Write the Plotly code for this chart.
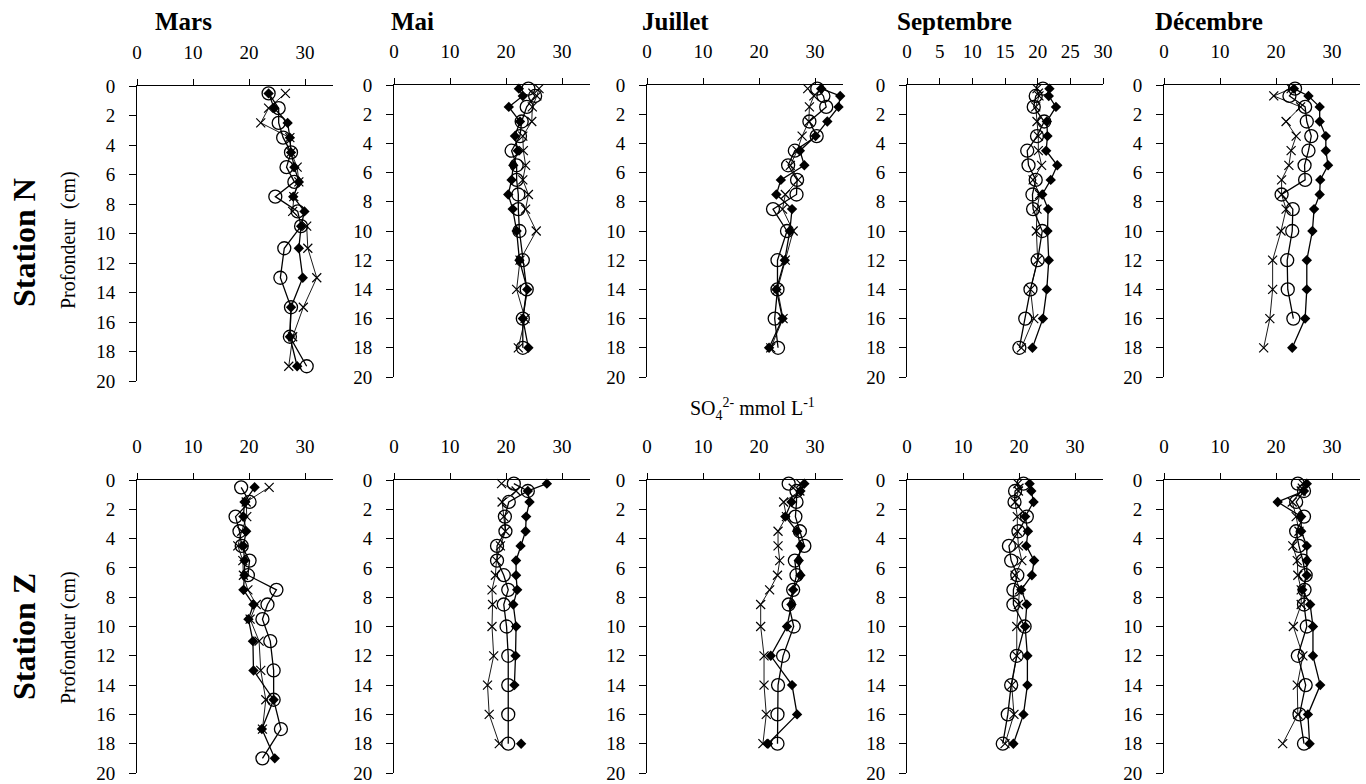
import plotly.graph_objects as go

W, H = 1366, 784

# Profondeurs (cm)
depth_mars = [0.5, 1.5, 2.5, 3.5, 4.5, 5.5, 6.5, 7.5, 8.5, 9.5, 11, 13, 15, 17, 19]
depth_std = [0.25, 0.75, 1.5, 2.5, 3.5, 4.5, 5.5, 6.5, 7.5, 8.5, 10, 12, 14, 16, 18]

months = ["Mars", "Mai", "Juillet", "Septembre", "Décembre"]

# ---- Station N : SO4 2- (mmol L-1) ----
n_mars_diamond = [23.5, 24.5, 26.9, 27.3, 27.5, 28.1, 28.9, 27.9, 29.9, 29.3, 28.9, 29.6, 27.5, 27.3, 28.6]
n_mars_circle = [23.5, 25.3, 25.3, 26.1, 27.5, 26.7, 28.1, 24.7, 28.7, 29.3, 26.3, 25.6, 27.5, 27.3, 30.3]
n_mars_cross = [26.5, 23.5, 22.1, 27.3, 27.5, 28.6, 28.9, 28.0, 27.8, 30.3, 30.5, 32.1, 29.7, 27.8, 27.1]

n_mai_diamond = [22.3, 23.0, 20.5, 22.5, 21.6, 22.1, 21.3, 21.0, 20.4, 21.2, 21.9, 22.4, 23.8, 23.0, 24.0]
n_mai_circle = [24.0, 25.2, 23.7, 22.8, 22.5, 21.0, 21.9, 21.9, 22.2, 22.2, 22.4, 23.0, 23.7, 23.0, 23.0]
n_mai_cross = [25.9, 25.5, 24.7, 24.6, 23.0, 23.1, 23.5, 23.0, 24.0, 23.5, 25.4, 22.5, 21.9, 23.4, 22.2]

n_juil_diamond = [31.1, 34.5, 34.2, 32.2, 30.1, 27.3, 28.1, 23.9, 23.1, 25.9, 25.5, 24.6, 23.1, 24.2, 21.8]
n_juil_circle = [30.4, 31.5, 32.0, 29.0, 30.3, 26.4, 25.2, 26.8, 26.7, 22.5, 25.0, 23.3, 23.3, 22.8, 23.4]
n_juil_cross = [28.7, 29.8, 29.0, 28.9, 27.7, 26.8, 25.6, 27.0, 24.7, 24.2, 26.1, 24.7, 23.3, 24.3, 22.1]

n_sept_diamond = [21.8, 21.7, 22.8, 21.4, 21.5, 21.3, 23.0, 22.0, 20.7, 21.6, 21.5, 21.7, 21.4, 20.8, 19.2]
n_sept_circle = [20.8, 19.7, 19.4, 21.0, 19.9, 18.4, 18.6, 19.7, 19.2, 19.3, 20.7, 20.0, 18.9, 18.1, 17.2]
n_sept_cross = [19.9, 20.2, 19.7, 19.9, 20.1, 20.1, 20.6, 19.3, 20.3, 19.9, 19.8, 20.0, 18.9, 19.4, 17.5]

n_dec_diamond = [23.2, 25.8, 27.8, 27.8, 28.9, 28.9, 29.3, 27.9, 27.8, 26.8, 26.5, 25.5, 25.5, 25.2, 22.9]
n_dec_circle = [23.4, 22.4, 25.2, 25.5, 26.3, 25.8, 25.1, 25.2, 21.0, 23.0, 22.9, 22.0, 22.1, 23.1, None]
n_dec_cross = [22.7, 19.6, 24.4, 21.8, 23.6, 22.7, 22.3, 21.0, 21.0, 21.8, 20.9, 19.4, 19.4, 18.9, 17.8]

# ---- Station Z : SO4 2- (mmol L-1) ----
z_mars_diamond = [21.0, 19.2, 19.0, 19.5, 19.0, 19.2, 19.2, 19.0, 20.8, 19.9, 20.7, 20.8, 24.4, 22.3, 24.6]
z_mars_circle = [18.6, 20.1, 17.6, 18.3, 18.7, 20.1, 19.8, 24.9, 23.3, 22.4, 23.8, 24.4, 24.4, 25.7, 22.4]
z_mars_cross = [23.6, 19.5, 19.6, 18.7, 18.0, 18.9, 19.0, 19.8, 21.3, 20.2, 21.8, 22.1, 23.0, 22.4, None]

z_mai_diamond = [27.3, 23.9, 24.2, 23.6, 23.5, 22.6, 21.8, 21.8, 22.0, 21.3, 21.8, 21.7, 21.5, None, 22.7]
z_mai_circle = [21.4, 23.9, 20.5, 19.8, 19.9, 18.4, 18.4, 19.6, 20.4, 19.6, 20.1, 20.4, 20.4, 20.4, 20.4]
z_mai_cross = [19.2, 21.8, 19.3, 19.6, 19.9, 19.0, 18.3, 18.1, 17.5, 17.6, 17.5, 17.8, 16.7, 17.0, 18.8]

z_juil_diamond = [28.1, 27.4, 25.8, 24.7, 26.8, 27.4, 27.1, 27.4, 26.1, 25.8, 25.0, 22.1, 25.9, 26.8, 21.6]
z_juil_circle = [25.3, 26.7, 26.7, 26.5, 27.3, 28.1, 26.4, 26.7, 26.1, 25.3, 26.2, 24.3, 23.4, 23.3, 23.3]
z_juil_cross = [27.4, 27.3, 24.4, 24.9, 23.4, 23.4, 23.7, 23.3, 21.9, 20.3, 20.3, 20.9, 20.9, 21.3, 20.7]

z_sept_diamond = [21.9, 22.2, 22.6, 21.1, 21.6, 21.3, 22.7, 22.3, 20.4, 21.4, 21.1, 21.5, 21.5, 20.8, 19.0]
z_sept_circle = [20.8, 19.3, 19.2, 21.4, 19.9, 18.2, 18.6, 19.7, 19.0, 19.0, 21.0, 19.6, 18.6, 18.0, 17.1]
z_sept_cross = [19.8, 19.9, 19.3, 19.7, 19.7, 19.9, 20.5, 19.3, 20.1, 19.9, 19.6, 19.6, 18.7, 19.1, 17.5]

z_dec_diamond = [25.5, 25.0, 20.3, 24.5, 24.5, 25.5, 25.5, 25.5, 24.7, 26.1, 26.6, 26.6, 27.9, 25.7, 26.0]
z_dec_circle = [23.9, 25.0, 23.6, 25.0, 23.6, 24.1, 24.8, 25.3, 25.1, 25.0, 25.5, 23.9, 25.3, 24.2, 25.0]
z_dec_cross = [24.8, 24.5, 22.9, 23.6, 24.1, 23.0, 23.8, 23.9, 24.5, 24.5, 23.1, 24.8, 23.8, 23.9, 21.2]

x_max = [35, 35, 35, 30, 35]
x_ticks_n = [[0, 10, 20, 30], [0, 10, 20, 30], [0, 10, 20, 30], [0, 5, 10, 15, 20, 25, 30], [0, 10, 20, 30]]
x_ticks_z = [[0, 10, 20, 30]] * 5
y_ticks = list(range(0, 21, 2))

station_n = [
    (depth_mars, n_mars_diamond, n_mars_circle, n_mars_cross),
    (depth_std, n_mai_diamond, n_mai_circle, n_mai_cross),
    (depth_std, n_juil_diamond, n_juil_circle, n_juil_cross),
    (depth_std, n_sept_diamond, n_sept_circle, n_sept_cross),
    (depth_std, n_dec_diamond, n_dec_circle, n_dec_cross),
]
station_z = [
    (depth_mars, z_mars_diamond, z_mars_circle, z_mars_cross),
    (depth_std, z_mai_diamond, z_mai_circle, z_mai_cross),
    (depth_std, z_juil_diamond, z_juil_circle, z_juil_cross),
    (depth_std, z_sept_diamond, z_sept_circle, z_sept_cross),
    (depth_std, z_dec_diamond, z_dec_circle, z_dec_cross),
]

# Panel frames in pixels: left edge, plot width, top, bottom
panel_left = [137, 394, 647, 907, 1164]
panel_width = 196
row_top = [[86, 85, 85, 85, 85], [480, 480, 480, 480, 480]]
row_bottom = [[381, 377, 377, 377, 377], [773, 773, 773, 773, 773]]

FONT = "Liberation Serif"
TICK_SIZE = 19

fig = go.Figure()
layout_axes = {}


def px_x(p):
    return p / W


def px_y(p):
    return 1 - p / H


k = 0
for r, (station, ticks_list) in enumerate([(station_n, x_ticks_n), (station_z, x_ticks_z)]):
    for c in range(5):
        k += 1
        xa = "x" if k == 1 else f"x{k}"
        ya = "y" if k == 1 else f"y{k}"
        depth, dia, cir, cro = station[c]
        xmax = x_max[c] if r == 0 else 35

        fig.add_trace(go.Scatter(
            x=cro, y=depth, xaxis=xa, yaxis=ya, mode="lines+markers",
            line=dict(color="black", width=0.9),
            marker=dict(symbol="x-thin-open", size=9, line=dict(color="black", width=1.2)),
            showlegend=False, cliponaxis=False))
        fig.add_trace(go.Scatter(
            x=cir, y=depth, xaxis=xa, yaxis=ya, mode="lines+markers",
            line=dict(color="black", width=1.3),
            marker=dict(symbol="circle-open", size=13, line=dict(color="black", width=1.3)),
            showlegend=False, cliponaxis=False))
        fig.add_trace(go.Scatter(
            x=dia, y=depth, xaxis=xa, yaxis=ya, mode="lines+markers",
            line=dict(color="black", width=1.3),
            marker=dict(symbol="diamond", size=8, color="black"),
            showlegend=False, cliponaxis=False))

        x0 = panel_left[c]
        top = row_top[r][c]
        bot = row_bottom[r][c]
        key_x = "xaxis" if k == 1 else f"xaxis{k}"
        key_y = "yaxis" if k == 1 else f"yaxis{k}"
        layout_axes[key_x] = dict(
            domain=[px_x(x0), px_x(x0 + panel_width)], anchor=ya, side="top",
            range=[0, xmax], tickvals=ticks_list[c], showline=True,
            linecolor="black", linewidth=1, ticks="outside", ticklen=6,
            tickcolor="black", showgrid=False, zeroline=False,
            ticklabelstandoff=12, automargin=False,
            tickfont=dict(family=FONT, size=TICK_SIZE, color="black"))
        layout_axes[key_y] = dict(
            domain=[px_y(bot), px_y(top)], anchor=xa,
            range=[20, 0], tickvals=y_ticks, showline=True,
            linecolor="black", linewidth=1, ticks="outside", ticklen=7,
            tickcolor="black", showgrid=False, zeroline=False,
            ticklabelstandoff=10, automargin=False,
            tickfont=dict(family=FONT, size=TICK_SIZE, color="black"))

annotations = []
title_left = [153, 389, 640, 895, 1153]
for c, m in enumerate(months):
    annotations.append(dict(
        text=f"<b>{m}</b>", x=px_x(title_left[c]), y=px_y(21), xref="paper", yref="paper",
        xanchor="left", yanchor="middle", showarrow=False,
        font=dict(family=FONT, size=25, color="black")))

for name, yc in [("Station N", 243), ("Station Z", 637)]:
    annotations.append(dict(
        text=f"<b>{name}</b>", x=px_x(24), y=px_y(yc), xref="paper", yref="paper",
        xanchor="center", yanchor="middle", textangle=-90, showarrow=False,
        font=dict(family=FONT, size=32, color="black")))

for label, yc in [("Profondeur  (cm)", 240), ("Profondeur (cm)", 638)]:
    annotations.append(dict(
        text=label, x=px_x(68), y=px_y(yc), xref="paper", yref="paper",
        xanchor="center", yanchor="middle", textangle=-90, showarrow=False,
        font=dict(family=FONT, size=20, color="black")))

annotations.append(dict(
    text="SO<sub>4</sub><sup>2-</sup> mmol L<sup>-1</sup>", x=px_x(752), y=px_y(409),
    xref="paper", yref="paper", xanchor="center", yanchor="middle", showarrow=False,
    font=dict(family=FONT, size=20, color="black")))

fig.update_layout(
    width=W, height=H, autosize=False,
    margin=dict(l=0, r=0, t=0, b=0, pad=0, autoexpand=False),
    paper_bgcolor="white", plot_bgcolor="white",
    annotations=annotations,
    **layout_axes)

fig.write_html("out.html")
